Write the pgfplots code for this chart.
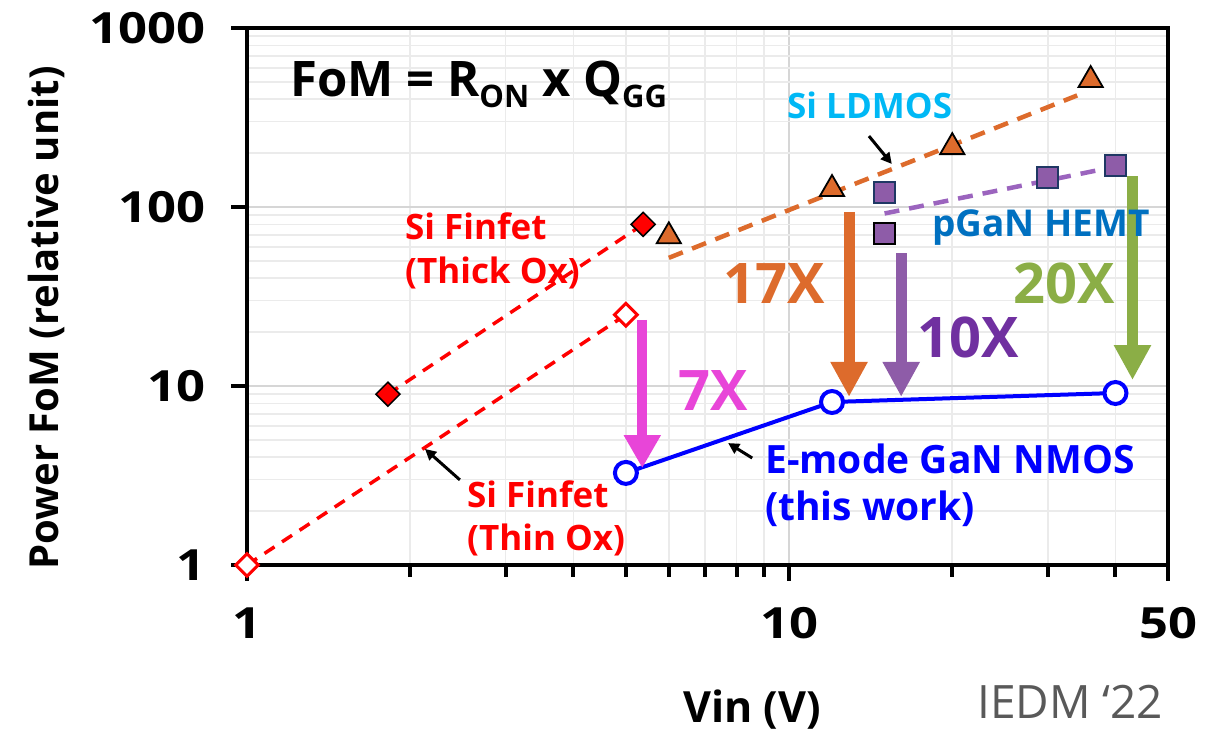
\documentclass[border=0pt]{standalone}
\usepackage{fontspec}
\setmainfont{Open Sans}
\newfontfamily\tickfont[FakeStretch=1.18]{Open Sans}
\usepackage{pgfplots}
\pgfplotsset{compat=1.18}
\usetikzlibrary{arrows.meta}

\definecolor{ldorange}{HTML}{DD6B2C}
\definecolor{pgpurple}{HTML}{8E5CA8}
\definecolor{pgedge}{HTML}{1F3864}
\definecolor{pgdash}{HTML}{9B64BE}
\definecolor{tenx}{HTML}{7030A0}
\definecolor{greenx}{HTML}{8BAE46}
\definecolor{magx}{HTML}{E845D8}
\definecolor{ldcyan}{HTML}{00B8F5}
\definecolor{pgblue}{HTML}{0070C0}
\definecolor{gridmaj}{HTML}{D6D6D6}
\definecolor{gridmin}{HTML}{EBEBEB}

\pgfplotstableread{
x y
1.82 9
5.38 80
}\thickox
\pgfplotstableread{
x y
1 1
5 25
}\thinox
\pgfplotstableread{
x y
6 68.6
12 126
20 216
36 512
}\ldmos
\pgfplotstableread{
x y
6 52
34 420
}\ldtrend
\pgfplotstableread{
x y
15 120
30 147
40 170
}\pgan
\pgfplotstableread{
x y
15 71
}\pganb
\pgfplotstableread{
x y
15 92
40 168
}\pgtrend
\pgfplotstableread{
x y
5 3.27
12 8.14
40 9.14
}\emode

\begin{document}
\begin{tikzpicture}
\begin{axis}[
  scale only axis, width=921pt, height=537pt,
  xmode=log, ymode=log,
  xmin=1, xmax=50, ymin=1, ymax=1000,
  xtick={1,10,50}, xticklabels={1,10,50},
  minor xtick={2,3,4,5,6,7,8,9,20,30,40},
  ytick={1,10,100,1000}, yticklabels={1,10,100,1000},
  minor ytick={2,3,4,5,6,7,8,9,20,30,40,50,60,70,80,90,200,300,400,500,600,700,800,900},
  grid=both,
  major grid style={draw=gridmaj, line width=1.6pt},
  minor grid style={draw=gridmin, line width=1.6pt},
  axis line style={line width=4.5pt, black},
  tick align=outside,
  xtick pos=left, ytick pos=left,
  major tick length=16pt, minor tick length=12pt,
  tick style={line width=4pt, black},
  minor y tick style={draw=none},
  ticklabel style={font=\tickfont\bfseries\fontsize{43}{43}\selectfont},
  xticklabel style={yshift=-23pt},
  yticklabel style={xshift=-22pt},
  xlabel={Vin (V)},
  ylabel={Power FoM (relative unit)},
  xlabel style={at={(axis description cs:0.5483,-0.2942)}, anchor=base, font=\bfseries\fontsize{43}{43}\selectfont},
  ylabel style={at={(axis description cs:-0.2182,0.46)}, anchor=center, font=\bfseries\fontsize{40}{40}\selectfont},
  clip=false,
]
\coordinate (TL) at (rel axis cs:0,1);

% trend lines
\addplot[red, line width=3.5pt, dash pattern=on 12pt off 9pt, mark=square*, mark size=8.5pt,
  mark options={rotate=45, solid, fill=red, draw=black, line width=1.5pt}] table {\thickox};
\addplot[ldorange, line width=4.5pt, dash pattern=on 15pt off 10pt] table {\ldtrend};
\addplot[pgdash, line width=4.5pt, dash pattern=on 15pt off 10pt] table {\pgtrend};
\addplot[red, line width=3.5pt, dash pattern=on 12pt off 9pt, mark=square*, mark size=8pt,
  mark options={rotate=45, solid, fill=white, draw=red, line width=3pt}] table {\thinox};
\addplot[only marks, mark=triangle*, mark size=14pt,
  mark options={fill=ldorange, draw=black, line width=1.8pt}] table {\ldmos};
\addplot[only marks, mark=square*, mark size=10.5pt,
  mark options={fill=pgpurple, draw=pgedge, line width=2pt}] table {\pgan};
\addplot[only marks, mark=square*, mark size=10.5pt,
  mark options={fill=pgpurple, draw=black, line width=2pt}] table {\pganb};
\addplot[blue, line width=4pt, mark=*, mark size=11pt,
  mark options={fill=white, draw=blue, line width=4pt}] table {\emode};

% reduction arrows
\draw[magx, line width=10pt, -{Triangle[width=35pt,length=33pt]}] (axis cs:5.36,23.4) -- (axis cs:5.36,3.48);
\draw[ldorange, line width=11pt, -{Triangle[width=35pt,length=35pt]}] (axis cs:12.9,93.8) -- (axis cs:12.9,8.7);
\draw[pgpurple, line width=11pt, -{Triangle[width=35pt,length=35pt]}] (axis cs:16.1,55) -- (axis cs:16.1,8.7);
\draw[greenx, line width=11pt, -{Triangle[width=35pt,length=35pt]}] (axis cs:43,149) -- (axis cs:43,10.8);

% pointer arrows
\draw[black, line width=3pt, -{Triangle[width=11pt,length=11pt]}] (axis cs:2.47,2.99) -- (axis cs:2.13,4.45);
\draw[black, line width=3pt, -{Triangle[width=11pt,length=11pt]}] (axis cs:14.04,249) -- (axis cs:15.47,174);
\draw[black, line width=3pt, -{Triangle[width=11pt,length=11pt]}] (axis cs:8.55,3.96) -- (axis cs:7.72,4.80);
\end{axis}

\begin{scope}[shift={([xshift=-247pt,yshift=28pt]TL)}, x=1pt, y=-1pt]
\path (0,0) rectangle (1220,733);
\node[anchor=base west, inner sep=0pt, font=\bfseries\fontsize{49}{49}\selectfont]
  at (290,97) {FoM = R\raisebox{-11pt}{\fontsize{31}{31}\selectfont ON} x Q\raisebox{-11pt}{\fontsize{31}{31}\selectfont GG}};
\tikzset{lbl/.style={anchor=base west, inner sep=0pt, font=\bfseries\fontsize{35}{35}\selectfont}}
\node[lbl, red] at (405,239) {Si Finfet};
\node[lbl, red] at (405,283) {(Thick Ox)};
\node[lbl, red] at (467,507) {Si Finfet};
\node[lbl, red] at (467,550) {(Thin Ox)};
\node[lbl, ldcyan] at (787,119) {Si LDMOS};
\node[lbl, pgblue, font=\bfseries\fontsize{37}{37}\selectfont] at (932,237) {pGaN HEMT};
\node[lbl, blue, font=\bfseries\fontsize{39}{39}\selectfont] at (765,473) {E-mode GaN NMOS};
\node[lbl, blue, font=\bfseries\fontsize{39}{39}\selectfont] at (765,520) {(this work)};
\tikzset{big/.style={anchor=base west, inner sep=0pt, font=\bfseries\fontsize{56}{56}\selectfont}}
\node[big, ldorange] at (723,303) {17X};
\node[big, tenx] at (917,357) {10X};
\node[big, greenx] at (1013,303) {20X};
\node[big, magx] at (678,410) {7X};
\node[anchor=base west, inner sep=0pt, text=black!65, font=\fontsize{46}{46}\selectfont] at (977,718) {IEDM ‘22};
\end{scope}
\end{tikzpicture}
\end{document}
